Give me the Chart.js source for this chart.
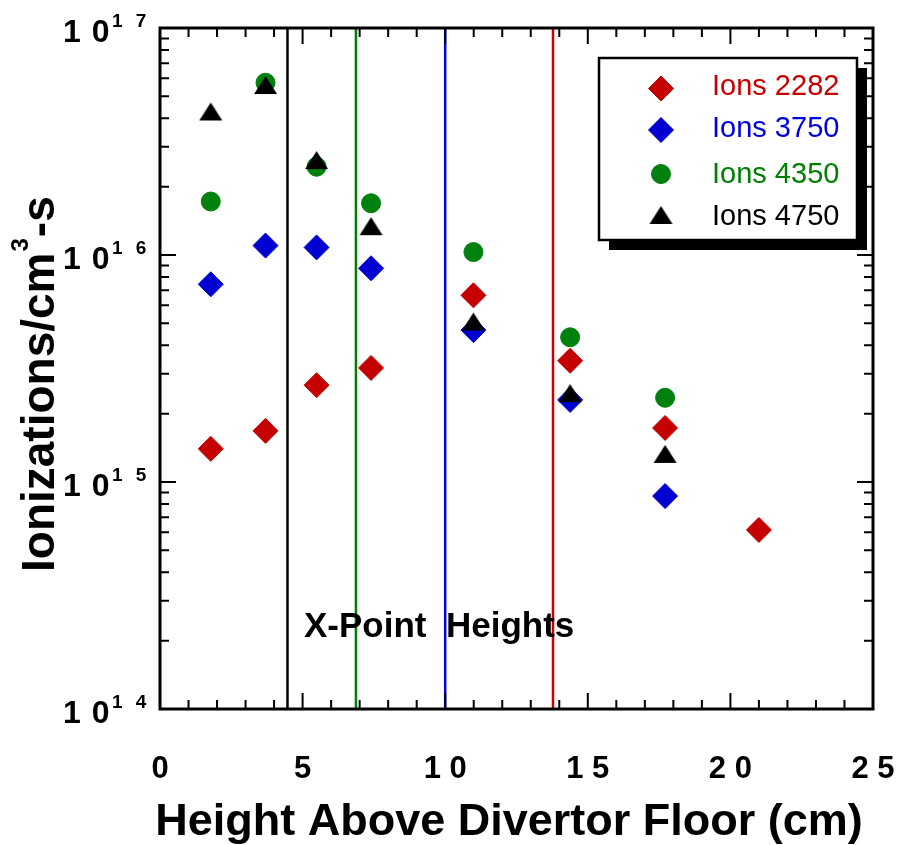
<!DOCTYPE html>
<html>
<head>
<meta charset="utf-8">
<script src="https://cdn.jsdelivr.net/npm/chart.js@4.4.1/dist/chart.umd.min.js"></script>
<style>
  html, body { margin: 0; padding: 0; background: #fff; }
  canvas { display: block; }
</style>
</head>
<body>
<canvas id="ionizaciones" width="902" height="845"></canvas>
<script>
// alturas sobre el piso del divertor (cm)
const alturas = [1.78, 3.70, 5.49, 7.40, 10.99, 14.38, 17.71, 21.0];

// ionizaciones/cm^3-s por caso
const ions2282 = [1.40e15, 1.68e15, 2.67e15, 3.18e15, 6.64e15, 3.42e15, 1.73e15, 6.15e14];
const ions3750 = [7.43e15, 1.10e16, 1.08e16, 8.74e15, 4.67e15, 2.30e15, 8.67e14];
const ions4350 = [1.72e16, 5.74e16, 2.45e16, 1.69e16, 1.03e16, 4.34e15, 2.35e15];
const ions4750 = [4.16e16, 5.44e16, 2.54e16, 1.30e16, 4.94e15, 2.39e15, 1.29e15];

// altura del punto X de cada caso (mismo orden que las series)
const alturasPuntoX = [13.78, 10.0, 6.87, 4.47];

const nombres = ['Ions 2282', 'Ions 3750', 'Ions 4350', 'Ions 4750'];
const coloresMarca = ['#c40000', '#0000d0', '#00800c', '#000000'];
const coloresTexto = ['#c80000', '#0000e0', '#008000', '#000000'];
const coloresLinea = ['#cc0000', '#0000ee', '#008000', '#000000'];
const radios = [12.5, 12.5, 9.5, 12];

const xTicks = [0, 5, 10, 15, 20, 25];
const yTicks = [1e14, 1e15, 1e16, 1e17];

const FUENTE = '"Liberation Sans", Arial, Helvetica, sans-serif';

// triángulo algo achatado, con el centroide en el centro del lienzo
function trianguloAchatado(color) {
  const c = document.createElement('canvas');
  c.width = 25; c.height = 26;
  const g = c.getContext('2d');
  g.fillStyle = color;
  g.beginPath();
  g.moveTo(12.5, 1);
  g.lineTo(24, 19);
  g.lineTo(1, 19);
  g.closePath();
  g.fill();
  return c;
}
const estilos = ['rectRot', 'rectRot', 'circle', trianguloAchatado(coloresMarca[3])];

const series = [ions2282, ions3750, ions4350, ions4750];
const datasets = series.map((vals, i) => ({
  label: nombres[i],
  data: vals.map((v, j) => ({ x: alturas[j], y: v })),
  pointStyle: estilos[i],
  pointRadius: radios[i],
  backgroundColor: coloresMarca[i],
  borderColor: coloresMarca[i],
  borderWidth: 1,
  showLine: false,
  order: 3 - i
}));

alturasPuntoX.forEach((h, i) => {
  datasets.push({
    label: 'xpt' + i,
    data: [{ x: h, y: yTicks[0] }, { x: h, y: yTicks[yTicks.length - 1] }],
    showLine: true,
    borderColor: coloresLinea[i],
    borderWidth: 2.5,
    pointRadius: 0,
    order: 10
  });
});

// marco, marcas hacia adentro, etiquetas, títulos y leyenda
const marcoYTextos = {
  id: 'marcoYTextos',
  afterDatasetsDraw(chart) {
    const ctx = chart.ctx;
    const a = chart.chartArea;
    const xs = chart.scales.x;
    const ys = chart.scales.y;
    ctx.save();
    ctx.strokeStyle = '#000';
    ctx.fillStyle = '#000';

    // marcas del eje x (abajo y arriba)
    ctx.lineWidth = 2;
    ctx.beginPath();
    for (let v = xTicks[0]; v <= xTicks[xTicks.length - 1]; v++) {
      const px = xs.getPixelForValue(v);
      const len = v % 5 === 0 ? 16 : 9;
      ctx.moveTo(px, a.bottom); ctx.lineTo(px, a.bottom - len);
      ctx.moveTo(px, a.top); ctx.lineTo(px, a.top + len);
    }
    // marcas del eje y logarítmico (izquierda y derecha)
    for (let e = 14; e < 17; e++) {
      for (let m = 1; m <= 9; m++) {
        const py = ys.getPixelForValue(m * Math.pow(10, e));
        const len = m === 1 ? 16 : 9;
        ctx.moveTo(a.left, py); ctx.lineTo(a.left + len, py);
        ctx.moveTo(a.right, py); ctx.lineTo(a.right - len, py);
      }
    }
    ctx.stroke();

    ctx.lineWidth = 3;
    ctx.strokeRect(a.left, a.top, a.right - a.left, a.bottom - a.top);

    // etiquetas del eje x
    ctx.font = 'bold 31px ' + FUENTE;
    ctx.textAlign = 'center';
    ctx.textBaseline = 'alphabetic';
    xTicks.forEach(v => {
      ctx.fillText(String(v).split('').join(' '), xs.getPixelForValue(v), a.bottom + 69);
    });

    // etiquetas del eje y: 10 con exponente
    ctx.textAlign = 'left';
    yTicks.forEach(v => {
      const py = ys.getPixelForValue(v);
      const exp = String(Math.round(Math.log10(v))).split('').join(' ');
      ctx.font = 'bold 32px ' + FUENTE;
      ctx.letterSpacing = '1px';
      ctx.fillText('1 0', a.left - 97, py + 14);
      ctx.font = 'bold 19px ' + FUENTE;
      ctx.letterSpacing = '4px';
      ctx.fillText(exp, a.left - 48, py - 1);
      ctx.letterSpacing = '0px';
    });

    // título eje x
    ctx.font = 'bold 45px ' + FUENTE;
    ctx.textAlign = 'center';
    ctx.fillText('Height Above Divertor Floor (cm)', 509, 835);

    // título eje y, girado
    ctx.save();
    ctx.translate(54, 572);
    ctx.rotate(-Math.PI / 2);
    ctx.textAlign = 'left';
    ctx.font = 'bold 46px ' + FUENTE;
    const t1 = 'Ionizations/cm';
    ctx.fillText(t1, 0, 0);
    let w = ctx.measureText(t1).width;
    ctx.font = 'bold 24px ' + FUENTE;
    ctx.fillText('3', w + 1, -26);
    w += ctx.measureText('3').width + 2;
    ctx.font = 'bold 46px ' + FUENTE;
    ctx.fillText('-s', w, 0);
    ctx.restore();

    // rótulo de las alturas del punto X
    ctx.font = 'bold 35px ' + FUENTE;
    ctx.textAlign = 'left';
    ctx.fillText('X-Point  Heights', xs.getPixelForValue(5.05), ys.getPixelForValue(2.07e14));

    // leyenda con sombra
    const bx = a.right - 274, by = a.top + 30, bw = 258, bh = 182;
    ctx.fillStyle = '#000';
    ctx.fillRect(bx + 10, by + 10, bw, bh);
    ctx.fillStyle = '#fff';
    ctx.fillRect(bx, by, bw, bh);
    ctx.lineWidth = 2.5;
    ctx.strokeRect(bx, by, bw, bh);

    const filasMarca = [30.5, 72, 116, 160];
    const filasTexto = [37, 79, 125, 167];
    ctx.font = '29px ' + FUENTE;
    nombres.forEach((nombre, i) => {
      ctx.fillStyle = coloresMarca[i];
      ctx.strokeStyle = coloresMarca[i];
      ctx.lineWidth = 1;
      Chart.helpers.drawPoint(ctx, {
        pointStyle: estilos[i], radius: radios[i], borderWidth: 1, rotation: 0
      }, bx + 62, by + filasMarca[i]);
      ctx.fillStyle = coloresTexto[i];
      ctx.fillText(nombre, bx + 113, by + filasTexto[i]);
    });

    ctx.restore();
  }
};

new Chart(document.getElementById('ionizaciones'), {
  type: 'scatter',
  data: { datasets },
  options: {
    responsive: false,
    animation: false,
    events: [],
    layout: { padding: { left: 160, right: 29, top: 28, bottom: 136 } },
    plugins: { legend: { display: false }, tooltip: { enabled: false } },
    scales: {
      x: { type: 'linear', min: 0, max: 25, display: false },
      y: { type: 'logarithmic', min: 1e14, max: 1e17, display: false }
    }
  },
  plugins: [marcoYTextos]
});
</script>
</body>
</html>
